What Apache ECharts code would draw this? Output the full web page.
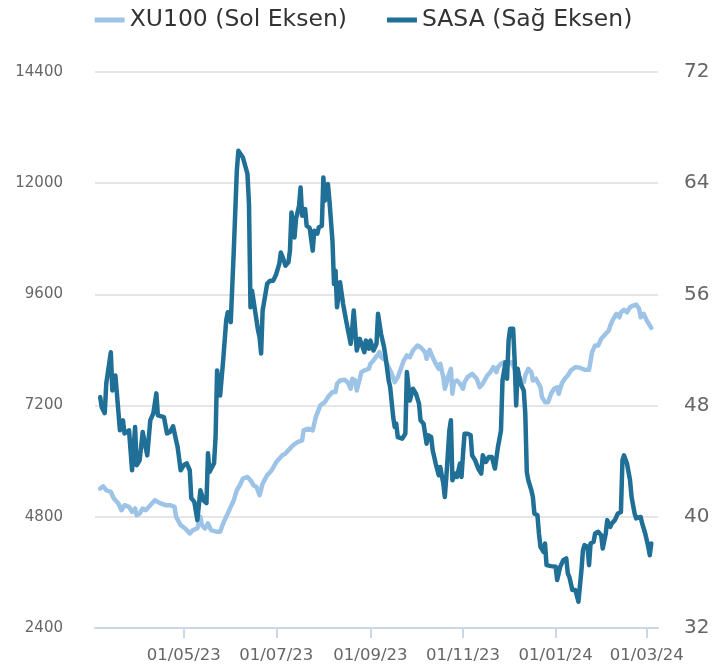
<!DOCTYPE html>
<html>
<head>
<meta charset="utf-8">
<script src="https://cdn.jsdelivr.net/npm/echarts@6/dist/echarts.min.js"></script>
<style>
html,body{margin:0;padding:0;background:#fff;}
#chart{width:727px;height:669px;}
</style>
</head>
<body>
<div id="chart"></div>
<script>
// ---- Data ----
const seriesNames = ['XU100 (Sol Eksen)', 'SASA (Sağ Eksen)'];

const xuDates = ['2023-03-07','2023-03-09','2023-03-11','2023-03-14','2023-03-16','2023-03-17','2023-03-19','2023-03-21','2023-03-23','2023-03-26',
'2023-03-28','2023-03-30','2023-03-31','2023-04-02','2023-04-04','2023-04-06','2023-04-09','2023-04-12','2023-04-15','2023-04-19',
'2023-04-22','2023-04-25','2023-04-26','2023-04-29','2023-05-02','2023-05-05','2023-05-07','2023-05-10','2023-05-12','2023-05-13',
'2023-05-15','2023-05-17','2023-05-19','2023-05-23','2023-05-25','2023-05-27','2023-05-29','2023-06-01','2023-06-03','2023-06-05',
'2023-06-07','2023-06-09','2023-06-12','2023-06-14','2023-06-16','2023-06-18','2023-06-20','2023-06-22','2023-06-25','2023-06-28',
'2023-07-01','2023-07-05','2023-07-07','2023-07-10','2023-07-12','2023-07-15','2023-07-18','2023-07-19','2023-07-22','2023-07-25',
'2023-07-27','2023-07-30','2023-08-02','2023-08-04','2023-08-07','2023-08-09','2023-08-10','2023-08-12','2023-08-15','2023-08-17',
'2023-08-19','2023-08-20','2023-08-22','2023-08-23','2023-08-25','2023-08-26','2023-08-28','2023-08-31','2023-09-01','2023-09-03',
'2023-09-05','2023-09-07','2023-09-08','2023-09-11','2023-09-13','2023-09-15','2023-09-17','2023-09-19','2023-09-21','2023-09-23',
'2023-09-25','2023-09-27','2023-09-29','2023-10-02','2023-10-04','2023-10-05','2023-10-07','2023-10-08','2023-10-10','2023-10-11',
'2023-10-14','2023-10-16','2023-10-17','2023-10-19','2023-10-20','2023-10-21','2023-10-22','2023-10-24','2023-10-25','2023-10-26',
'2023-10-28','2023-10-30','2023-11-01','2023-11-02','2023-11-04','2023-11-07','2023-11-10','2023-11-12','2023-11-14','2023-11-17',
'2023-11-19','2023-11-21','2023-11-23','2023-11-24','2023-11-26','2023-11-28','2023-12-01','2023-12-03','2023-12-05','2023-12-07',
'2023-12-09','2023-12-11','2023-12-12','2023-12-14','2023-12-16','2023-12-17','2023-12-19','2023-12-22','2023-12-23','2023-12-25',
'2023-12-27','2023-12-29','2023-12-31','2024-01-02','2024-01-03','2024-01-05','2024-01-07','2024-01-09','2024-01-11','2024-01-14',
'2024-01-17','2024-01-20','2024-01-23','2024-01-25','2024-01-27','2024-01-29','2024-01-31','2024-02-03','2024-02-05','2024-02-06',
'2024-02-08','2024-02-10','2024-02-12','2024-02-13','2024-02-15','2024-02-17','2024-02-19','2024-02-21','2024-02-23','2024-02-25',
'2024-02-26','2024-02-28','2024-03-01','2024-03-04'];

const xuValues = [5410,5459,5373,5336,5194,5229,5087,4942,5050,5013,
4906,4979,4834,4871,4979,4942,5050,5158,5100,5050,
5050,5013,4798,4619,4548,4440,4511,4548,4798,4619,
4548,4656,4511,4475,4475,4656,4798,5013,5158,5373,
5481,5625,5660,5589,5481,5444,5265,5517,5696,5804,
5983,6127,6164,6271,6343,6414,6450,6666,6702,6666,
6952,7204,7275,7383,7491,7491,7672,7743,7758,7706,
7564,7780,7743,7527,7780,7922,7958,7995,8103,8174,
8260,8353,8245,8174,8030,7887,7706,7814,7995,8174,
8282,8245,8389,8497,8460,8497,8353,8210,8404,8318,
8103,7995,8103,7814,7564,7672,7814,7995,7456,7706,
7743,7672,7564,7706,7814,7887,7780,7599,7672,7851,
7922,8030,7922,8030,8103,8137,8103,8137,7995,7887,
7743,7706,7851,7995,7922,7743,7780,7599,7383,7275,
7275,7456,7564,7599,7456,7672,7780,7851,7958,8030,
8016,7973,7973,8353,8497,8497,8641,8749,8820,8928,
9072,9180,9107,9214,9266,9214,9322,9359,9380,9288,
9107,9180,9036,8878];

const sasaDates = ['2023-03-07','2023-03-08','2023-03-10','2023-03-11','2023-03-14','2023-03-15','2023-03-17','2023-03-18','2023-03-20','2023-03-22',
'2023-03-23','2023-03-26','2023-03-27','2023-03-28','2023-03-30','2023-03-31','2023-04-02','2023-04-04','2023-04-07','2023-04-09',
'2023-04-11','2023-04-13','2023-04-14','2023-04-18','2023-04-20','2023-04-22','2023-04-24','2023-04-26','2023-04-27','2023-04-29',
'2023-05-01','2023-05-03','2023-05-05','2023-05-06','2023-05-08','2023-05-10','2023-05-12','2023-05-14','2023-05-16','2023-05-17',
'2023-05-18','2023-05-21','2023-05-22','2023-05-23','2023-05-25','2023-05-27','2023-05-29','2023-05-30','2023-06-01','2023-06-03',
'2023-06-05','2023-06-06','2023-06-09','2023-06-12','2023-06-13','2023-06-14','2023-06-15','2023-06-17','2023-06-19','2023-06-20',
'2023-06-21','2023-06-22','2023-06-25','2023-06-27','2023-06-29','2023-07-01','2023-07-03','2023-07-04','2023-07-06','2023-07-07',
'2023-07-09','2023-07-10','2023-07-11','2023-07-13','2023-07-14','2023-07-16','2023-07-17','2023-07-18','2023-07-20','2023-07-21',
'2023-07-23','2023-07-25','2023-07-26','2023-07-28','2023-07-29','2023-07-31','2023-08-01','2023-08-02','2023-08-04','2023-08-05',
'2023-08-07','2023-08-08','2023-08-09','2023-08-10','2023-08-12','2023-08-14','2023-08-16','2023-08-17','2023-08-19','2023-08-20',
'2023-08-21','2023-08-22','2023-08-23','2023-08-25','2023-08-26','2023-08-28','2023-08-29','2023-08-31','2023-09-01','2023-09-03',
'2023-09-05','2023-09-06','2023-09-08','2023-09-10','2023-09-11','2023-09-13','2023-09-14','2023-09-16','2023-09-17','2023-09-18',
'2023-09-19','2023-09-22','2023-09-24','2023-09-25','2023-09-27','2023-09-29','2023-10-01','2023-10-03','2023-10-04','2023-10-06',
'2023-10-08','2023-10-09','2023-10-11','2023-10-12','2023-10-14','2023-10-16','2023-10-17','2023-10-19','2023-10-20','2023-10-21',
'2023-10-23','2023-10-24','2023-10-25','2023-10-27','2023-10-28','2023-10-30','2023-10-31','2023-11-01','2023-11-02','2023-11-04',
'2023-11-06','2023-11-07','2023-11-09','2023-11-11','2023-11-13','2023-11-14','2023-11-16','2023-11-18','2023-11-20','2023-11-22',
'2023-11-24','2023-11-26','2023-11-27','2023-11-29','2023-11-30','2023-12-01','2023-12-02','2023-12-04','2023-12-05','2023-12-06',
'2023-12-07','2023-12-08','2023-12-09','2023-12-11','2023-12-12','2023-12-13','2023-12-14','2023-12-16','2023-12-17','2023-12-18',
'2023-12-20','2023-12-21','2023-12-22','2023-12-24','2023-12-25','2023-12-26','2023-12-29','2024-01-01','2024-01-02','2024-01-04',
'2024-01-06','2024-01-08','2024-01-09','2024-01-10','2024-01-12','2024-01-14','2024-01-15','2024-01-16','2024-01-18','2024-01-19',
'2024-01-20','2024-01-22','2024-01-23','2024-01-24','2024-01-26','2024-01-27','2024-01-29','2024-01-31','2024-02-01','2024-02-03',
'2024-02-04','2024-02-06','2024-02-07','2024-02-09','2024-02-11','2024-02-13','2024-02-14','2024-02-15','2024-02-17','2024-02-19',
'2024-02-20','2024-02-22','2024-02-23','2024-02-26','2024-02-27','2024-02-28','2024-02-29','2024-03-02','2024-03-03','2024-03-04'];

const sasaValues = [48.61,47.89,47.46,49.59,51.84,49.09,50.17,48.88,46.22,46.94,
46.00,46.22,44.78,43.35,46.46,43.71,44.06,46.10,44.42,46.94,
47.44,48.88,47.30,47.17,46.00,46.10,46.51,45.50,45.02,43.35,
43.71,43.85,43.35,41.34,41.07,39.76,41.91,41.19,40.98,44.57,
43.22,43.85,45.74,50.53,48.73,51.25,54.12,54.71,54.00,59.15,
64.89,66.33,65.85,64.67,62.52,55.07,56.27,54.84,53.40,52.92,
51.75,54.84,56.78,56.99,56.99,57.47,58.21,59.02,58.43,58.07,
58.31,59.15,61.90,60.10,61.44,62.38,63.69,61.66,62.14,60.94,
60.77,59.15,60.58,60.37,60.82,60.94,64.41,62.74,63.94,62.74,
59.86,56.75,57.71,55.07,56.87,55.32,54.12,54.00,52.45,53.52,
54.84,53.40,51.96,52.80,52.80,51.84,52.68,52.09,52.68,51.96,
52.45,54.60,53.16,52.20,51.48,49.81,49.33,47.17,46.46,46.70,
45.74,45.62,45.98,50.41,48.37,49.21,48.85,48.14,46.94,46.70,
45.26,45.86,45.74,44.78,43.83,42.99,43.58,42.39,41.43,42.87,
46.22,46.94,42.63,43.11,42.87,43.83,42.87,44.55,45.98,45.98,
45.86,44.42,44.06,43.47,43.11,44.42,43.94,44.30,44.30,43.47,
45.02,46.22,49.81,51.12,49.93,52.68,53.52,53.52,51.25,48.01,
50.65,50.05,49.57,49.09,47.42,43.22,42.63,41.91,41.43,40.24,
40.11,38.80,37.84,37.48,38.08,36.52,36.45,36.40,35.45,36.40,
36.88,37.01,35.93,35.68,34.73,34.73,34.85,33.89,36.17,37.60,
37.96,37.84,36.52,38.08,38.20,38.80,38.92,38.68,37.72,38.80,
39.76,39.27,39.52,39.76,40.24,40.35,44.06,44.42,43.83,42.63,
41.43,40.24,39.88,39.99,39.52,39.52,38.80,37.84,37.24,38.08];

const xTickDates = ['2023-05-01','2023-07-01','2023-09-01','2023-11-01','2024-01-01','2024-03-01'];
const xRange = ['2023-03-03 14:00', '2024-03-08 10:00'];
const leftAxis = {min: 2400, max: 14400, interval: 2400};
const rightAxis = {min: 32, max: 72, interval: 8};

// ---- helpers ----
function parseLocal(s) {
  const parts = s.split(' ');
  const ymd = parts[0].split('-').map(Number);
  let hh = 0, mm = 0;
  if (parts[1]) { const t = parts[1].split(':').map(Number); hh = t[0]; mm = t[1]; }
  return new Date(ymd[0], ymd[1] - 1, ymd[2], hh, mm).getTime();
}
function pad(n) { return (n < 10 ? '0' : '') + n; }
function fmt(v) {
  const d = new Date(v);
  return pad(d.getDate()) + '/' + pad(d.getMonth() + 1) + '/' + String(d.getFullYear()).slice(2);
}
const xuData = xuDates.map((d, i) => [parseLocal(d), xuValues[i]]);
const sasaData = sasaDates.map((d, i) => [parseLocal(d), sasaValues[i]]);
const tickValues = xTickDates.map(parseLocal);

const FONT = 'DejaVu Sans';
const chart = echarts.init(document.getElementById('chart'), null, {renderer: 'canvas'});
chart.setOption({
  animation: false,
  backgroundColor: '#ffffff',
  legend: {
    top: 3,
    left: 'center',
    itemWidth: 30,
    itemHeight: 5,
    itemGap: 40,
    icon: 'rect',
    textStyle: {fontFamily: FONT, fontSize: 23.5, color: '#333333'},
    data: seriesNames
  },
  grid: {left: 95, right: 69, top: 72, bottom: 41, containLabel: false},
  xAxis: {
    type: 'value',
    min: parseLocal(xRange[0]),
    max: parseLocal(xRange[1]),
    axisLine: {show: true, lineStyle: {color: '#ccd6eb', width: 2}},
    axisTick: {show: true, customValues: tickValues, length: 10, lineStyle: {color: '#ccd6eb', width: 2}},
    axisLabel: {customValues: tickValues, formatter: fmt, margin: 19, fontFamily: FONT, fontSize: 16.5, color: '#666666', hideOverlap: false},
    splitLine: {show: false}
  },
  yAxis: [
    {
      type: 'value', position: 'left',
      min: leftAxis.min, max: leftAxis.max, interval: leftAxis.interval,
      axisLine: {show: false}, axisTick: {show: false},
      axisLabel: {margin: 32, fontFamily: FONT, fontSize: 15, color: '#666666', formatter: v => String(v)},
      splitLine: {show: true, lineStyle: {color: '#e6e6e6', width: 2}}
    },
    {
      type: 'value', position: 'right',
      min: rightAxis.min, max: rightAxis.max, interval: rightAxis.interval,
      axisLine: {show: false}, axisTick: {show: false},
      axisLabel: {margin: 26, fontFamily: FONT, fontSize: 20, color: '#666666', formatter: v => String(v)},
      splitLine: {show: false}
    }
  ],
  series: [
    {
      name: seriesNames[0], type: 'line', yAxisIndex: 0, data: xuData,
      showSymbol: false, symbol: 'none',
      lineStyle: {color: '#9dc3e6', width: 4.5, join: 'round', cap: 'round'},
      itemStyle: {color: '#9dc3e6'}, z: 2
    },
    {
      name: seriesNames[1], type: 'line', yAxisIndex: 1, data: sasaData,
      showSymbol: false, symbol: 'none',
      lineStyle: {color: '#1f6f96', width: 4.5, join: 'round', cap: 'round'},
      itemStyle: {color: '#1f6f96'}, z: 3
    }
  ]
});
</script>
</body>
</html>
